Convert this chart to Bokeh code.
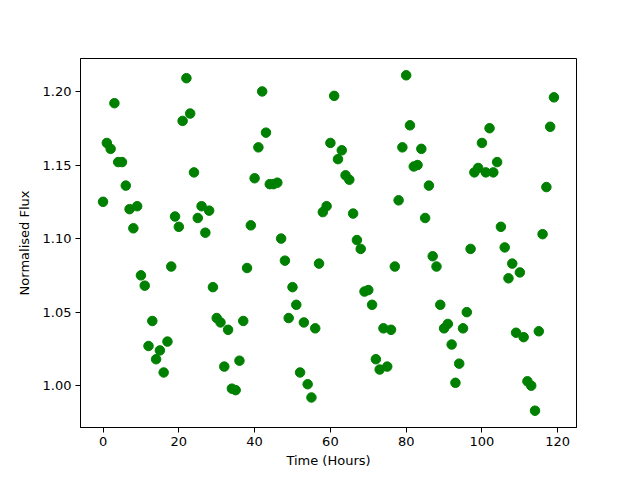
from bokeh.plotting import figure
from bokeh.models import Range1d, FixedTicker, NumeralTickFormatter
from bokeh.embed import file_html
from bokeh.resources import INLINE

hours = list(range(120))
flux = [
    1.125, 1.165, 1.161, 1.192, 1.152, 1.152, 1.136, 1.120, 1.107, 1.122,
    1.075, 1.068, 1.027, 1.044, 1.018, 1.024, 1.009, 1.030, 1.081, 1.115,
    1.108, 1.180, 1.209, 1.185, 1.145, 1.114, 1.122, 1.104, 1.119, 1.067,
    1.046, 1.043, 1.013, 1.038, 0.998, 0.997, 1.017, 1.044, 1.080, 1.109,
    1.141, 1.162, 1.200, 1.172, 1.137, 1.137, 1.138, 1.100, 1.085, 1.046,
    1.067, 1.055, 1.009, 1.043, 1.001, 0.992, 1.039, 1.083, 1.118, 1.122,
    1.165, 1.197, 1.154, 1.160, 1.143, 1.140, 1.117, 1.099, 1.093, 1.064,
    1.065, 1.055, 1.018, 1.011, 1.039, 1.013, 1.038, 1.081, 1.126, 1.162,
    1.211, 1.177, 1.149, 1.150, 1.161, 1.114, 1.136, 1.088, 1.081, 1.055,
    1.039, 1.042, 1.028, 1.002, 1.015, 1.039, 1.050, 1.093, 1.145, 1.148,
    1.165, 1.145, 1.175, 1.145, 1.152, 1.108, 1.094, 1.073, 1.083, 1.036,
    1.077, 1.033, 1.003, 1.000, 0.983, 1.037, 1.103, 1.135, 1.176, 1.196,
]
x_ticks = [0, 20, 40, 60, 80, 100, 120]
y_ticks = [1.00, 1.05, 1.10, 1.15, 1.20]

p = figure(frame_width=496, frame_height=369, output_backend="svg",
           toolbar_location=None, min_border_left=80, min_border_top=58,
           min_border_right=56, min_border_bottom=45,
           x_range=Range1d(-5.95, 124.95), y_range=Range1d(0.9716, 1.2224))
p.background_fill_color = "white"
p.border_fill_color = "white"
p.outline_line_color = "black"
p.outline_line_width = 1
p.xgrid.visible = False
p.ygrid.visible = False

p.scatter(hours, flux, size=9.5, fill_color="#008000", line_color="#008000")

for ax in (p.xaxis[0], p.yaxis[0]):
    ax.axis_line_color = "black"
    ax.major_tick_out = 5
    ax.major_tick_in = 0
    ax.minor_tick_out = 0
    ax.minor_tick_in = 0
    ax.major_label_text_font = "DejaVu Sans"
    ax.major_label_text_font_size = "13px"
    ax.major_label_text_color = "black"
    ax.axis_label_text_font = "DejaVu Sans"
    ax.axis_label_text_font_size = "13px"
    ax.axis_label_text_font_style = "normal"
    ax.axis_label_text_color = "black"

p.xaxis.ticker = FixedTicker(ticks=x_ticks)
p.yaxis.ticker = FixedTicker(ticks=y_ticks)
p.yaxis.formatter = NumeralTickFormatter(format="0.00")
p.xaxis.axis_label = "Time (Hours)"
p.yaxis.axis_label = "Normalised Flux"
p.xaxis.major_label_standoff = 4
p.yaxis.major_label_standoff = 4
p.xaxis.axis_label_standoff = 4
p.yaxis.axis_label_standoff = 8

open("out.html", "w").write(file_html(p, INLINE))
